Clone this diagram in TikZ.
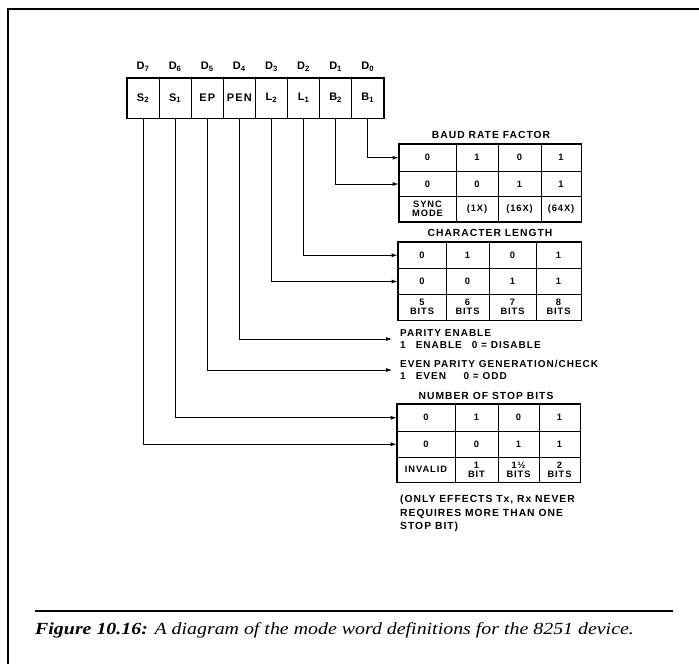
\documentclass[tikz,border=0pt]{standalone}
\usepackage{fontspec}
\setmainfont{Liberation Serif}
\newfontfamily\diafont[LetterSpace=10]{Liberation Sans}
\usetikzlibrary{arrows.meta,positioning}

% one row of a truth table: name, row, top, bottom, column edges, cell texts
\newcommand{\tablerow}[6]{%
  \foreach \txt [count=\c] in {#6} {
    \pgfmathsetmacro\xa{{#5}[\c-1]}
    \pgfmathsetmacro\xb{{#5}[\c]}
    \pgfmathsetmacro\cw{\xb-\xa}
    \pgfmathsetmacro\ch{#4-#3}
    \node[cell,minimum width=\cw pt,minimum height=\ch pt]
      (#1-#2-\c) at ({(\xa+\xb)/2},{(#3+#4)/2}) {\txt};
  }}

\begin{document}
\begin{tikzpicture}[x=1pt,y=-1pt,
    bitbox/.style={draw,line width=0.8pt,minimum width=32.1pt,minimum height=40pt,
      inner sep=0pt,font=\diafont\bfseries\fontsize{11}{12}\selectfont},
    dlabel/.style={inner sep=0pt,font=\diafont\bfseries\fontsize{11}{12}\selectfont},
    cell/.style={draw,line width=0.8pt,inner sep=0pt,align=center,
      font=\diafont\bfseries\fontsize{9.3}{9}\selectfont},
    tabtitle/.style={inner sep=0pt,font=\diafont\bfseries\fontsize{10.3}{11}\selectfont},
    note/.style={inner sep=0pt,align=left,font=\diafont\bfseries\fontsize{10}{12}\selectfont},
    outline/.style={line width=1.8pt},
    arr/.style={-{Latex[length=6pt,width=4pt]},line width=0.8pt}
  ]
  \useasboundingbox (0,0) rectangle (699,664);
  \draw[line width=2pt] (8,664) -- (8,9) -- (699,9);

  % mode word register
  \foreach \lbl [count=\k] in {S\textsubscript{2},S\textsubscript{1},EP,PEN,
      L\textsubscript{2},L\textsubscript{1},B\textsubscript{2},B\textsubscript{1}} {
    \pgfmathtruncatemacro\bit{8-\k}
    \node[bitbox] (bit\bit) at ({127+32.1*(\k-0.5)},98) {\lbl};
    \node[dlabel,above=6pt of bit\bit] (dl\bit) {D\textsubscript{\bit}};
  }
  \draw[outline] (bit7.north west) rectangle (bit0.south east);

  % baud rate factor
  \node[tabtitle] (bdtitle) at (491,135) {BAUD RATE FACTOR};
  \tablerow{bd}{1}{144}{171.5}{399,456,498,541,581}{0,1,0,1}
  \tablerow{bd}{2}{171.5}{196.5}{399,456,498,541,581}{0,0,1,1}
  \tablerow{bd}{3}{196.5}{221.5}{399,456,498,541,581}{{SYNC\\MODE},(1X),(16X),(64X)}
  \draw[outline] (bd-1-1.north west) rectangle (bd-3-4.south east);

  % character length
  \node[tabtitle] (cltitle) at (490,233) {CHARACTER LENGTH};
  \tablerow{cl}{1}{242}{268.5}{398,446,489,536,581}{0,1,0,1}
  \tablerow{cl}{2}{268.5}{294.5}{398,446,489,536,581}{0,0,1,1}
  \tablerow{cl}{3}{294.5}{320}{398,446,489,536,581}{{5\\BITS},{6\\BITS},{7\\BITS},{8\\BITS}}
  \draw[outline] (cl-1-1.north west) rectangle (cl-3-4.south east);

  % parity
  \node[note,anchor=west,inner xsep=8pt] (pentext) at (392,339)
    {PARITY ENABLE\\1\quad ENABLE\quad 0 = DISABLE};
  \node[note,anchor=west,inner xsep=8pt] (eptext) at (392,370)
    {EVEN PARITY GENERATION/CHECK\\1\quad EVEN\quad\ \ 0 = ODD};

  % number of stop bits
  \node[tabtitle] (sbtitle) at (486,396) {NUMBER OF STOP BITS};
  \tablerow{sb}{1}{404}{431.5}{397,455,498,539,580}{0,1,0,1}
  \tablerow{sb}{2}{431.5}{457}{397,455,498,539,580}{0,0,1,1}
  \tablerow{sb}{3}{457}{482}{397,455,498,539,580}{INVALID,{1\\BIT},{1½\\BITS},{2\\BITS}}
  \draw[outline] (sb-1-1.north west) rectangle (sb-3-4.south east);
  \node[note,anchor=north west,font=\diafont\bfseries\fontsize{10.3}{13.5}\selectfont]
    (sbnote) at (400,495) {(ONLY EFFECTS Tx, Rx NEVER\\REQUIRES MORE THAN ONE\\STOP BIT)};

  % bit connectors
  \draw[arr] (bit0.south) |- (bd-1-1.west);
  \draw[arr] (bit1.south) |- (bd-2-1.west);
  \draw[arr] (bit2.south) |- (cl-1-1.west);
  \draw[arr] (bit3.south) |- (cl-2-1.west);
  \draw[arr] (bit4.south) |- (pentext.west);
  \draw[arr] (bit5.south) |- (eptext.west);
  \draw[arr] (bit6.south) |- (sb-1-1.west);
  \draw[arr] (bit7.south) |- (sb-2-1.west);

  % caption
  \draw[line width=1.5pt] (35,611) -- (673,611);
  \node[anchor=base west,inner sep=0pt,font=\fontsize{17}{19}\selectfont] (caption) at (35,634)
    {\scalebox{1.17}[1]{\textbf{\textit{Figure 10.16:}} \textit{A diagram of the mode word definitions for the 8251 device.}}};
\end{tikzpicture}
\end{document}
